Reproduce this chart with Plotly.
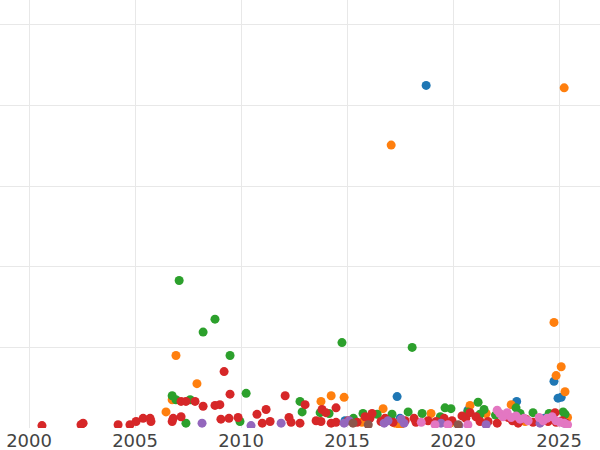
import plotly.graph_objects as go

# Series data (x = year, y = value)
blue_x = [2018.73, 2017.36, 2023.0, 2024.76, 2024.95, 2025.1, 2020.7, 2014.9, 2017.5, 2024.3, 2022.45]
blue_y = [425, 39, 33, 58, 37, 38, 22, 9, 12, 12, 15]

orange_x = [2025.24, 2017.08, 2024.76, 2006.93, 2025.1, 2024.86, 2007.92, 2025.28, 2014.25, 2014.86,
            2006.75, 2006.46, 2013.77, 2016.7, 2020.8, 2022.74, 2018.96, 2021.56, 2015.7, 2017.26,
            2024.15, 2025.4, 2017.5, 2019.86, 2023.4]
orange_y = [422, 351, 131, 90, 76, 65, 55, 45, 40, 38,
            35, 20, 33, 24, 28, 29, 18, 18, 7, 6,
            9, 13, 3, 6, 8]

green_x = [2007.08, 2008.77, 2008.21, 2009.48, 2014.76, 2018.07, 2010.24, 2006.75, 2006.93, 2007.6,
           2012.78, 2021.18, 2019.62, 2019.9, 2007.4, 2009.95, 2012.88, 2015.75, 2017.88, 2022.97,
           2025.19, 2025.28, 2016.42, 2017.12, 2018.54, 2023.16, 2023.77, 2020.7, 2021.27, 2013.73,
           2014.15, 2021.46, 2022.0, 2024.53, 2015.3, 2019.4]
green_y = [183, 135, 119, 90, 106, 100, 43, 40, 35, 35,
           33, 32, 25, 24, 6, 8, 20, 18, 20, 25,
           20, 17, 17, 17, 18, 18, 19, 20, 17, 19,
           18, 23, 16, 18, 12, 14]

red_x = [2009.2, 2009.48, 2012.08, 2007.17, 2007.4, 2007.83, 2008.21, 2008.77, 2009.0, 2011.18,
         2010.75, 2013.02, 2013.82, 2014.0, 2014.48, 2000.61, 2002.45, 2002.55, 2004.2, 2004.76,
         2005.05, 2005.38, 2005.71, 2005.75, 2006.75, 2006.8, 2007.17, 2009.05, 2009.43, 2009.86,
         2011.0, 2011.37, 2012.26, 2012.36, 2012.78, 2013.54, 2013.77, 2014.25, 2014.48, 2015.05,
         2015.47, 2015.85, 2016.08, 2016.18, 2016.6, 2016.79, 2017.17, 2017.74, 2018.16, 2018.25,
         2018.82, 2019.2, 2019.58, 2019.95, 2020.42, 2020.6, 2020.8, 2021.08, 2021.27, 2021.65,
         2022.08, 2022.6, 2022.8, 2023.07, 2023.44, 2023.77, 2024.1, 2024.48, 2024.81, 2024.86,
         2025.14, 2025.33]
red_y = [70, 42, 40, 33, 33, 33, 27, 28, 29, 23,
         17, 29, 23, 19, 25, 3, 4, 6, 4, 4,
         8, 12, 12, 8, 8, 12, 14, 11, 12, 13,
         6, 8, 13, 7, 6, 9, 8, 6, 7, 9,
         7, 14, 12, 18, 8, 12, 7, 9, 12, 7,
         9, 8, 12, 9, 15, 12, 19, 14, 8, 8,
         6, 13, 9, 6, 11, 7, 8, 8, 19, 7,
         9, 6]

purple_x = [2008.16, 2010.47, 2011.89, 2014.86, 2015.1, 2016.75, 2016.93, 2017.55, 2017.69, 2019.43,
            2020.28, 2024.1, 2025.24, 2021.56]
purple_y = [6, 3, 6, 6, 9, 6, 9, 11, 6, 6,
            3, 6, 6, 4]

brown_x = [2015.28, 2016.0, 2020.24]
brown_y = [6, 4, 4]

pink_x = [2018.5, 2019.15, 2019.76, 2020.7, 2022.08, 2022.2, 2022.36, 2022.55, 2022.74, 2022.97,
          2023.16, 2023.35, 2023.54, 2024.06, 2024.25, 2024.43, 2024.67, 2024.86, 2025.05, 2025.24,
          2025.4]
pink_y = [7, 4, 4, 4, 22, 18, 14, 19, 13, 15,
          11, 12, 9, 13, 9, 12, 14, 9, 7, 6,
          4]

series = [
    ("A", blue_x, blue_y, "#1f77b4"),
    ("B", orange_x, orange_y, "#ff7f0e"),
    ("C", green_x, green_y, "#2ca02c"),
    ("D", red_x, red_y, "#d62728"),
    ("E", purple_x, purple_y, "#9467bd"),
    ("F", brown_x, brown_y, "#8c564b"),
    ("G", pink_x, pink_y, "#e377c2"),
]

fig = go.Figure()
for name, xs, ys, col in series:
    fig.add_trace(go.Scatter(x=xs, y=ys, mode="markers", name=name,
                             marker=dict(color=col, size=9, line=dict(width=0))))

fig.update_layout(
    width=600, height=450,
    template="plotly_white",
    plot_bgcolor="white", paper_bgcolor="white",
    showlegend=False,
    margin=dict(l=0, r=0, t=0, b=22),
    font=dict(family="DejaVu Sans", size=18, color="#444"),
)
fig.update_xaxes(range=[1998.63, 2026.93], tick0=2000, dtick=5, showgrid=True,
                 gridcolor="#e8e8e8", gridwidth=1, zeroline=False, automargin=False,
                 showline=False, ticks="", tickfont=dict(family="DejaVu Sans", size=18, color="#444"))
fig.update_yaxes(range=[0, 531], tick0=0, dtick=100, showgrid=True, gridcolor="#e8e8e8",
                 gridwidth=1, zeroline=False, showticklabels=False, automargin=False,
                 showline=False, ticks="")

fig.write_html("out.html",
               config={"displayModeBar": False},
               post_script="document.body.style.margin='0';document.body.style.overflow='hidden';")
